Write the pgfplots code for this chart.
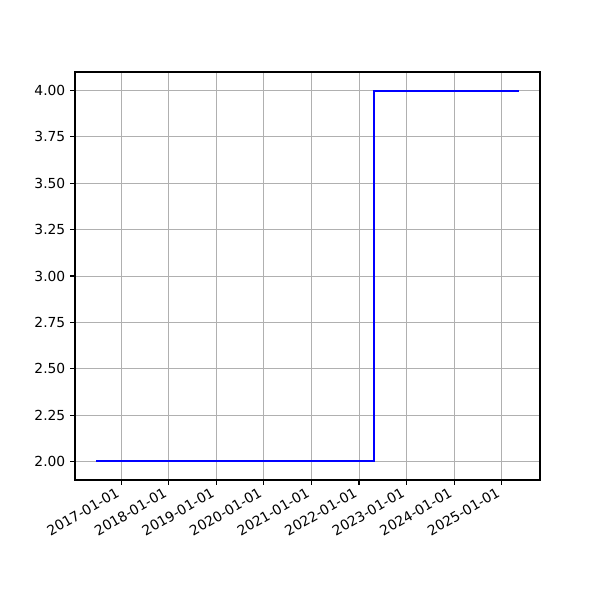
\documentclass[border=0pt]{standalone}
\usepackage{pgfplots}
\pgfplotsset{compat=1.18}
\usepackage{fontspec}
\setmainfont{DejaVu Sans}
\begin{document}
\begin{tikzpicture}
\path[use as bounding box] (0,0) rectangle (6in,6in);
\begin{axis}[
  at={(0.75in,1.2in)}, anchor=south west,
  width=4.65in, height=4.08in, scale only axis,
  xmin=-355, xmax=3216, ymin=1.9, ymax=4.1,
  xtick={0,365,730,1095,1461,1826,2191,2556,2922},
  xticklabels={2017-01-01,2018-01-01,2019-01-01,2020-01-01,2021-01-01,2022-01-01,2023-01-01,2024-01-01,2025-01-01},
  x tick label style={xshift=-0.055in, rotate=30, anchor=north east, font=\fontsize{10}{12}\selectfont, inner sep=1pt},
  ytick={2,2.25,2.5,2.75,3,3.25,3.5,3.75,4},
  y tick label style={font=\fontsize{10}{12}\selectfont},
  yticklabel style={/pgf/number format/.cd, fixed, fixed zerofill, precision=2, assume math mode=true},
  grid=major,
  major grid style={color=black!31, line width=0.7pt},
  axis line style={line width=0.8pt},
  tick style={line width=0.8pt, black},
  tick align=outside, major tick length=3.5pt,
  xtick pos=bottom, ytick pos=left,
]
\addplot[blue, line width=1.5pt, const plot] coordinates {(-193,2) (1944,4) (3054,4)};
\end{axis}
\end{tikzpicture}
\end{document}
